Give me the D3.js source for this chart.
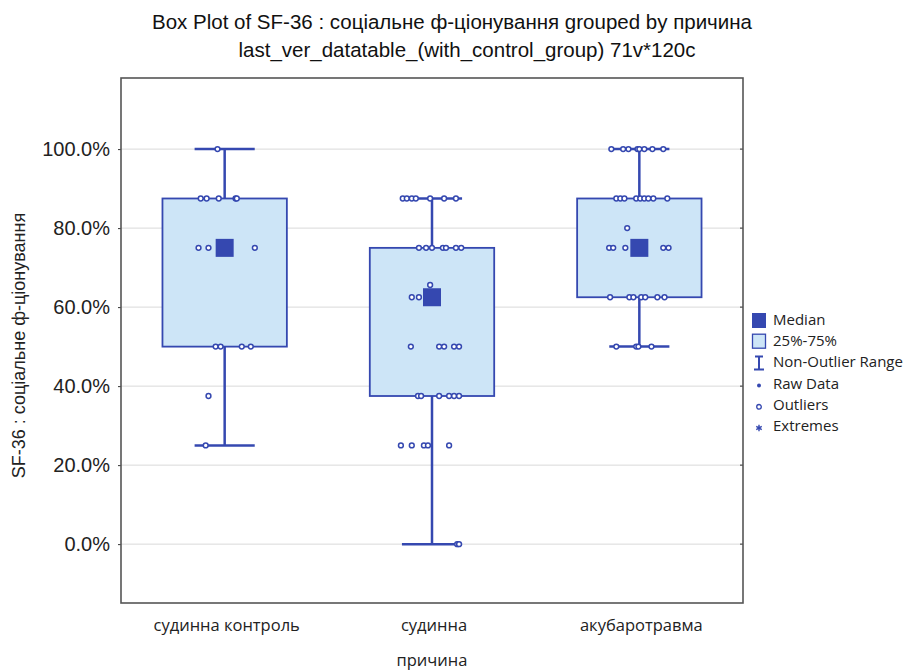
<!DOCTYPE html>
<html lang="uk">
<head>
<meta charset="utf-8">
<title>Box Plot of SF-36</title>
<script src="https://cdn.jsdelivr.net/npm/d3@7"></script>
<style>
  body { margin: 0; background: #fff; }
  svg { display: block; }
</style>
</head>
<body>
<script>
// ---------------------------------------------------------------
// data

var categories = ["судинна контроль", "судинна", "акубаротравма"];
var medians    = [75, 62.5, 75];
var q1         = [50, 37.5, 62.5];
var q3         = [87.5, 75, 87.5];
var whiskLow   = [25, 0, 50];
var whiskHigh  = [100, 87.5, 100];

// raw points: [value, jitter (-1..1)]
var raw1 = [[100,-0.23],
  [87.5,-0.77],[87.5,-0.58],[87.5,-0.19],[87.5,0.35],[87.5,0.39],
  [75,-0.84],[75,-0.52],[75,0.97],
  [50,-0.29],[50,-0.13],[50,0.55],[50,0.84],
  [37.5,-0.52],[25,-0.61]];
var raw2 = [[87.5,-0.94],[87.5,-0.81],[87.5,-0.65],[87.5,-0.52],[87.5,-0.06],[87.5,0.39],[87.5,0.77],
  [75,-0.42],[75,-0.19],[75,0],[75,0.35],[75,0.45],[75,0.77],[75,0.94],
  [65.6,-0.06],[62.5,-0.65],[62.5,-0.42],
  [50,-0.68],[50,0.23],[50,0.39],[50,0.71],[50,0.87],
  [37.5,-0.45],[37.5,-0.35],[37.5,0.23],[37.5,0.55],[37.5,0.71],[37.5,0.87],
  [25,-1],[25,-0.65],[25,-0.26],[25,-0.13],[25,0.55],
  [0,0.81],[0,0.87]];
var raw3 = [[100,-0.9],[100,-0.52],[100,-0.35],[100,-0.06],[100,0],[100,0.16],[100,0.42],[100,0.77],
  [87.5,-0.74],[87.5,-0.61],[87.5,-0.48],[87.5,-0.1],[87.5,0.03],[87.5,0.16],[87.5,0.29],[87.5,0.45],[87.5,0.9],
  [80,-0.39],
  [75,-0.97],[75,-0.84],[75,-0.45],[75,0.77],[75,0.94],
  [62.5,-0.94],[62.5,-0.32],[62.5,-0.19],[62.5,0.06],[62.5,0.19],[62.5,0.58],[62.5,0.81],
  [50,-0.74],[50,-0.1],[50,-0.03],[50,0.39]];
var rawData = [raw1, raw2, raw3];

var yTicks = [0, 20, 40, 60, 80, 100];
var legendLabels = ["Median", "25%-75%", "Non-Outlier Range", "Raw Data", "Outliers", "Extremes"];

// ---------------------------------------------------------------
// canvas

var width = 903, height = 671;
var frame = {left: 121, top: 78, right: 743, bottom: 603};
var blue = "#3548b0", boxFill = "#cde5f7", grid = "#d9d9d9";

var svg = d3.select("body").append("svg")
	.attr("width", width)
	.attr("height", height);

var x = d3.scaleBand()
	.domain(categories)
	.range([frame.left, frame.right]);

var y = d3.scaleLinear()
	.domain([-14.9, 118])
	.range([frame.bottom, frame.top]);

var jitter = d3.scaleLinear()
	.domain([-1, 1])
	.range([-0.15*x.bandwidth(), 0.15*x.bandwidth()]);

// ---------------------------------------------------------------
// grid + frame

svg.append("g")
	.selectAll("line")
	.data(yTicks)
	.enter().append("line")
	.attr("x1", frame.left)
	.attr("x2", frame.right)
	.attr("y1", function(d){ return y(d); })
	.attr("y2", function(d){ return y(d); })
	.style("stroke", grid)
	.style("stroke-width", 1);

var yAxis = svg.append("g")
	.attr("transform", "translate(" + frame.left + ",0)")
	.call(d3.axisLeft(y).tickValues(yTicks).tickSize(3).tickPadding(8)
		.tickFormat(function(d){ return d3.format(".1f")(d) + "%"; }));
yAxis.select(".domain").remove();
yAxis.selectAll("line").style("stroke", "#333");
yAxis.selectAll("text")
	.style("font-family", "'Liberation Sans', Arial, sans-serif")
	.style("font-size", "20px")
	.style("fill", "#222");

svg.append("g")
	.attr("transform", "translate(" + frame.right + ",0)")
	.selectAll("line")
	.data(yTicks)
	.enter().append("line")
	.attr("x1", -3).attr("x2", 0)
	.attr("y1", function(d){ return y(d); })
	.attr("y2", function(d){ return y(d); })
	.style("stroke", "#333");

svg.append("rect")
	.attr("x", frame.left)
	.attr("y", frame.top)
	.attr("width", frame.right - frame.left)
	.attr("height", frame.bottom - frame.top)
	.style("fill", "none")
	.style("stroke", "#555")
	.style("stroke-width", 1.6);

// ---------------------------------------------------------------
// boxes

var boxW = 0.6*x.bandwidth();
var capW = 0.29*x.bandwidth();
var groups = svg.append("g")
	.selectAll("g")
	.data(categories)
	.enter().append("g")
	.attr("transform", function(d){ return "translate(" + (x(d) + x.bandwidth()/2) + ",0)"; });

// whisker stem
groups.append("line")
	.attr("x1", 0).attr("x2", 0)
	.attr("y1", function(d, i){ return y(whiskLow[i]); })
	.attr("y2", function(d, i){ return y(whiskHigh[i]); })
	.style("stroke", blue).style("stroke-width", 2.5);

// caps
[whiskLow, whiskHigh].forEach(function(arr){
	groups.append("line")
		.attr("x1", -capW/2).attr("x2", capW/2)
		.attr("y1", function(d, i){ return y(arr[i]); })
		.attr("y2", function(d, i){ return y(arr[i]); })
		.style("stroke", blue).style("stroke-width", 2.5);
});

groups.append("rect")
	.attr("x", -boxW/2)
	.attr("width", boxW)
	.attr("y", function(d, i){ return y(q3[i]); })
	.attr("height", function(d, i){ return y(q1[i]) - y(q3[i]); })
	.style("fill", boxFill)
	.style("stroke", blue)
	.style("stroke-width", 1.8);

// raw data points
groups.selectAll("circle")
	.data(function(d, i){ return rawData[i]; })
	.enter().append("circle")
	.attr("cx", function(p){ return jitter(p[1]); })
	.attr("cy", function(p){ return y(p[0]); })
	.attr("r", 2.4)
	.style("fill", "#fff")
	.style("stroke", blue)
	.style("stroke-width", 1.5);

// median square
groups.append("rect")
	.attr("x", -9).attr("width", 18)
	.attr("y", function(d, i){ return y(medians[i]) - 9; })
	.attr("height", 18)
	.style("fill", blue);

// ---------------------------------------------------------------
// x axis labels

svg.append("g")
	.selectAll("text")
	.data(categories)
	.enter().append("text")
	.attr("x", function(d){ return x(d) + x.bandwidth()/2 + 2; })
	.attr("y", 631)
	.attr("text-anchor", "middle")
	.style("font-family", "'Open Sans', sans-serif")
	.style("font-size", "16.5px")
	.style("fill", "#222")
	.text(function(d){ return d; });

svg.append("text")
	.attr("x", (frame.left + frame.right)/2)
	.attr("y", 666)
	.attr("text-anchor", "middle")
	.style("font-family", "'Open Sans', sans-serif")
	.style("font-size", "16.5px")
	.style("fill", "#222")
	.text("причина");

svg.append("text")
	.attr("transform", "translate(25," + ((frame.top + frame.bottom)/2 + 5) + ") rotate(-90)")
	.attr("text-anchor", "middle")
	.style("font-family", "'Liberation Sans', Arial, sans-serif")
	.style("font-size", "18px")
	.style("fill", "#222")
	.text("SF-36 : соціальне ф-ціонування");

// ---------------------------------------------------------------
// title

var title = svg.append("g")
	.style("font-family", "'Liberation Sans', Arial, sans-serif")
	.style("font-size", "20.5px")
	.style("fill", "#111")
	.attr("text-anchor", "middle");
title.append("text").attr("x", 452).attr("y", 29)
	.text("Box Plot of SF-36 : соціальне ф-ціонування grouped by  причина");
title.append("text").attr("x", 467).attr("y", 57)
	.text("last_ver_datatable_(with_control_group) 71v*120c");

// ---------------------------------------------------------------
// legend

var leg = svg.append("g").attr("transform", "translate(759,320)");
var step = 21.2;

leg.selectAll("text")
	.data(legendLabels)
	.enter().append("text")
	.attr("x", 14)
	.attr("y", function(d, i){ return i*step + 5; })
	.style("font-family", "'Open Sans', sans-serif")
	.style("font-size", "15px")
	.style("fill", "#222")
	.text(function(d){ return d; });

leg.append("rect").attr("x", -7).attr("y", -7).attr("width", 14).attr("height", 15)
	.style("fill", blue);
leg.append("rect").attr("x", -6.5).attr("y", step - 7).attr("width", 13).attr("height", 14)
	.style("fill", boxFill).style("stroke", blue).style("stroke-width", 1.3);
leg.append("path")
	.attr("d", "M0," + (2*step - 6) + "V" + (2*step + 7)
		+ "M-5," + (2*step + 7) + "H5M-4," + (2*step - 6) + "H4")
	.style("stroke", blue).style("stroke-width", 2).style("fill", "none");
leg.append("circle").attr("cx", 0).attr("cy", 3*step + 2).attr("r", 2)
	.style("fill", blue);
leg.append("circle").attr("cx", 0).attr("cy", 4*step + 2).attr("r", 2.3)
	.style("fill", "#fff").style("stroke", blue).style("stroke-width", 1.3);
leg.append("path")
	.attr("d", d3.symbol().type(d3.symbolAsterisk).size(28)())
	.attr("transform", "translate(0," + (5*step + 2) + ")")
	.style("stroke", blue).style("stroke-width", 1.4).style("fill", "none");
</script>
</body>
</html>
